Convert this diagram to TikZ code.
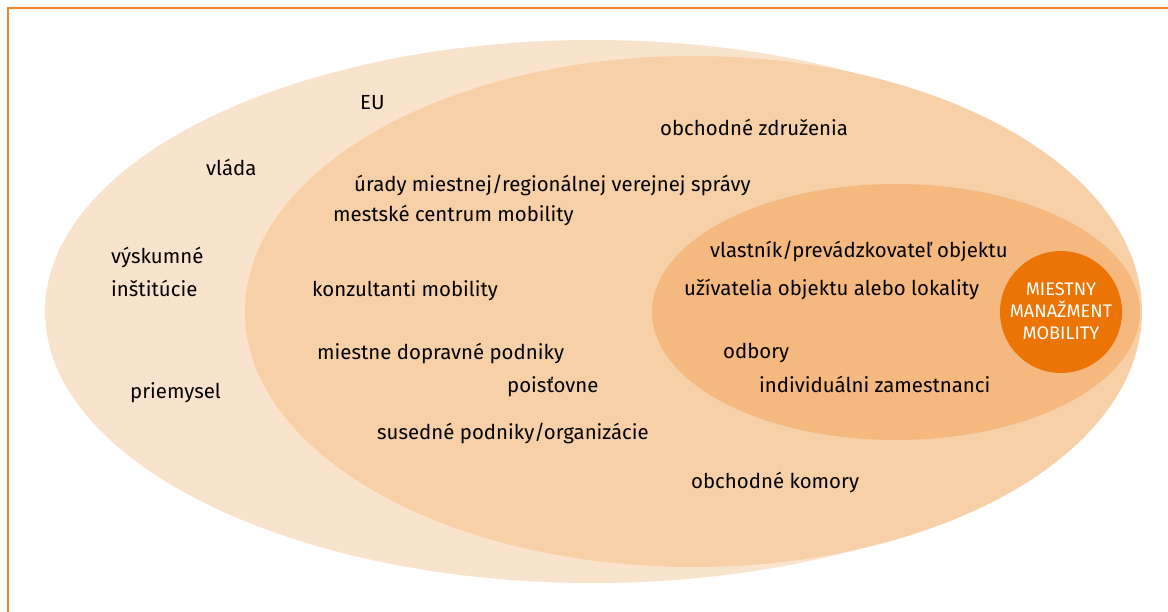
\documentclass[tikz,border=0pt]{standalone}
\usepackage{fontspec}
\setmainfont{Fira Sans}
\definecolor{frameor}{HTML}{F08428}
\definecolor{ellA}{HTML}{FAE3CD}
\definecolor{ellB}{HTML}{F8D0A8}
\definecolor{ellC}{HTML}{F5B87E}
\definecolor{core}{HTML}{EB7405}
\tikzset{
  lbl/.style={anchor=base west, inner sep=0pt, font=\fontsize{20.4}{24}\selectfont, text=black},
}
\begin{document}
\begin{tikzpicture}[x=1pt,y=-1pt]
\useasboundingbox (0,0) rectangle (1168,612);
% frame
\draw[frameor, line width=1.3pt] (8,612) -- (8,8) -- (1168,8);
% ellipses
\fill[ellA] (593,311.5) ellipse [x radius=548pt, y radius=271.5pt];
\fill[ellB] (693.5,311.5) ellipse [x radius=448.5pt, y radius=255.5pt];
\fill[ellC] (896,312) ellipse [x radius=244pt, y radius=128pt];
\node[circle, fill=core, minimum size=122pt, inner sep=0pt] (core) at (1061,312) {};
\node[align=center, text=white, font=\fontsize{18.2}{22}\selectfont, inner sep=0pt] (coretext) at (1061,311) {MIESTNY\\MANAŽMENT\\MOBILITY};
% labels
\node[lbl] (eu) at (360,110) {EU};
\node[lbl] (oz) at (660,136) {obchodné združenia};
\node[lbl] (vlada) at (206,176) {vláda};
\node[lbl] (urady) at (354,192) {úrady miestnej/regionálnej verejnej správy};
\node[lbl] (mcm) at (333,222) {mestské centrum mobility};
\node[lbl] (vysk) at (111,264) {výskumné};
\node[lbl] (inst) at (111,297) {inštitúcie};
\node[lbl] (konz) at (312,297) {konzultanti mobility};
\node[lbl] (vlast) at (710,258) {vlastník/prevádzkovateľ objektu};
\node[lbl] (uziv) at (684,296) {užívatelia objektu alebo lokality};
\node[lbl] (mdp) at (317,360) {miestne dopravné podniky};
\node[lbl] (odb) at (723,359) {odbory};
\node[lbl] (pois) at (507,392) {poisťovne};
\node[lbl] (indiv) at (759,392) {individuálni zamestnanci};
\node[lbl] (priem) at (130,399) {priemysel};
\node[lbl] (sus) at (377,439) {susedné podniky/organizácie};
\node[lbl] (ok) at (691,488) {obchodné komory};
\end{tikzpicture}
\end{document}
